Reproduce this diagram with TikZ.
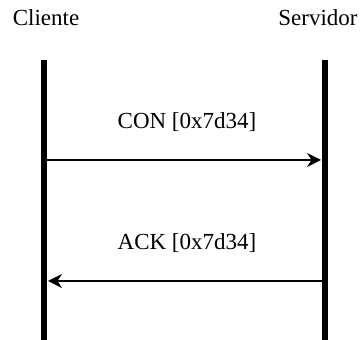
\documentclass[tikz,border=0pt]{standalone}
\usepackage{fontspec}
\setmainfont{Liberation Serif}
\usetikzlibrary{positioning,arrows.meta}

\begin{document}
\begin{tikzpicture}[x=0.5pt, y=-0.5pt,
  every node/.style={font=\fontsize{11.5}{14}\selectfont, inner sep=0pt},
  lifeline/.style={line width=2.6pt},
  msg/.style={line width=0.75pt, -{Stealth[length=7pt,width=7pt]}}]
  \useasboundingbox (0,0) rectangle (360,340);

  % Participants
  \node (cli) at (46,18) {Cliente};
  \node (srv) at (318,18) {Servidor};

  % Lifelines
  \coordinate (cliTop) at (44,60);
  \coordinate (cliBot) at (44,340);
  \coordinate (srvTop) at (325,60);
  \coordinate (srvBot) at (325,340);
  \draw[lifeline] (cliTop) -- (cliBot);
  \draw[lifeline] (srvTop) -- (srvBot);

  % CON
  \coordinate (conFrom) at (47,160);
  \coordinate (conTo) at (321,160);
  \draw[msg] (conFrom) -- (conTo);
  \node (conLab) at (187,122) {CON [0x7d34]};

  % ACK
  \coordinate (ackFrom) at (322,281);
  \coordinate (ackTo) at (48,281);
  \draw[msg] (ackFrom) -- (ackTo);
  \node (ackLab) at (187,243) {ACK [0x7d34]};

\end{tikzpicture}
\end{document}
